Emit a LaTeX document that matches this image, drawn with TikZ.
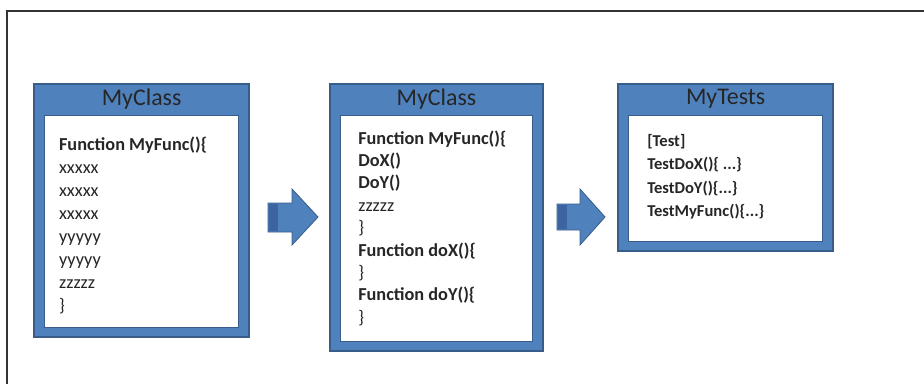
\documentclass[tikz,border=0pt]{standalone}
\usepackage{fontspec}
\setmainfont{Carlito}
\usepackage{tikz}
\usetikzlibrary{positioning,calc}
\usepackage{xcolor}

\definecolor{boxblue}{HTML}{4F81BD}
\definecolor{boxline}{HTML}{385D8A}
\definecolor{arrowdark}{HTML}{3B64A0}
\definecolor{codegray}{HTML}{262626}

\tikzset{
  outerbox/.style={draw=boxline, line width=1.2pt, fill=boxblue},
  innerbox/.style={draw=boxline, line width=0.6pt, fill=white},
  titletext/.style={text=black!85, font=\fontsize{17}{20}\selectfont, inner sep=0pt},
  codetext/.style={text=codegray, align=left, anchor=north west, inner sep=0pt},
  blockarrow/.style={draw=boxline, line width=0.6pt, fill=boxblue, line join=miter}
}

\begin{document}
\begin{tikzpicture}[scale=1]
    \useasboundingbox (0, 0) rectangle (23.1, 9.6);
    % Frame
    \draw[line width=1.4pt, black!80] (0.175, 0) -- (0.175, 9.325) -- (23.1, 9.325);

    % First class
    \draw[outerbox] (0.85, 1.175) rectangle (6.225, 7.5);
    \draw[innerbox] (1.1, 1.425) rectangle (5.95, 6.725);
    \node[titletext] (titleA) at (3.54, 7.13) {MyClass};
    \node[codetext, font=\fontsize{13}{16.35}\selectfont] (codeA) at (1.47, 6.19)
        {\textbf{Function MyFunc()\{}\\ xxxxx\\ xxxxx\\ xxxxx\\ yyyyy\\ yyyyy\\ zzzzz\\ \}};

    % Arrow
    \draw[blockarrow] (6.7, 4.525) -- (7.3, 4.525) -- (7.3, 4.875) -- (7.95, 4.175)
        -- (7.3, 3.475) -- (7.3, 3.8) -- (6.7, 3.8) -- cycle;
    \fill[arrowdark] (6.72, 4.51) rectangle (6.95, 3.815);

    % Refactored class
    \draw[outerbox] (8.25, 0.825) rectangle (13.575, 7.5);
    \draw[innerbox] (8.5, 1.075) rectangle (13.3, 6.725);
    \node[titletext] (titleB) at (10.91, 7.13) {MyClass};
    \node[codetext, font=\fontsize{13}{15.9}\selectfont] (codeB) at (8.95, 6.34)
        {\textbf{Function MyFunc()\{}\\ \textbf{DoX()}\\ \textbf{DoY()}\\ zzzzz\\ \}\\
         \textbf{Function doX()\{}\\ \}\\ \textbf{Function doY()\{}\\ \}};

    % Arrow
    \draw[blockarrow] (13.925, 4.5) -- (14.5, 4.5) -- (14.5, 4.875) -- (15.125, 4.175)
        -- (14.5, 3.475) -- (14.5, 3.85) -- (13.925, 3.85) -- cycle;
    \fill[arrowdark] (13.945, 4.485) rectangle (14.17, 3.865);

    % Tests
    \draw[outerbox] (15.45, 3.325) rectangle (20.825, 7.5);
    \draw[innerbox] (15.7, 3.575) rectangle (20.55, 6.725);
    \node[titletext] (titleC) at (18.14, 7.13) {MyTests};
    \node[codetext, font=\fontsize{11.8}{16.5}\selectfont\bfseries] (codeC) at (16.175, 6.24)
        {[Test]\\ TestDoX()\{ ...\}\\ TestDoY()\{...\}\\ TestMyFunc()\{...\}};
\end{tikzpicture}
\end{document}
